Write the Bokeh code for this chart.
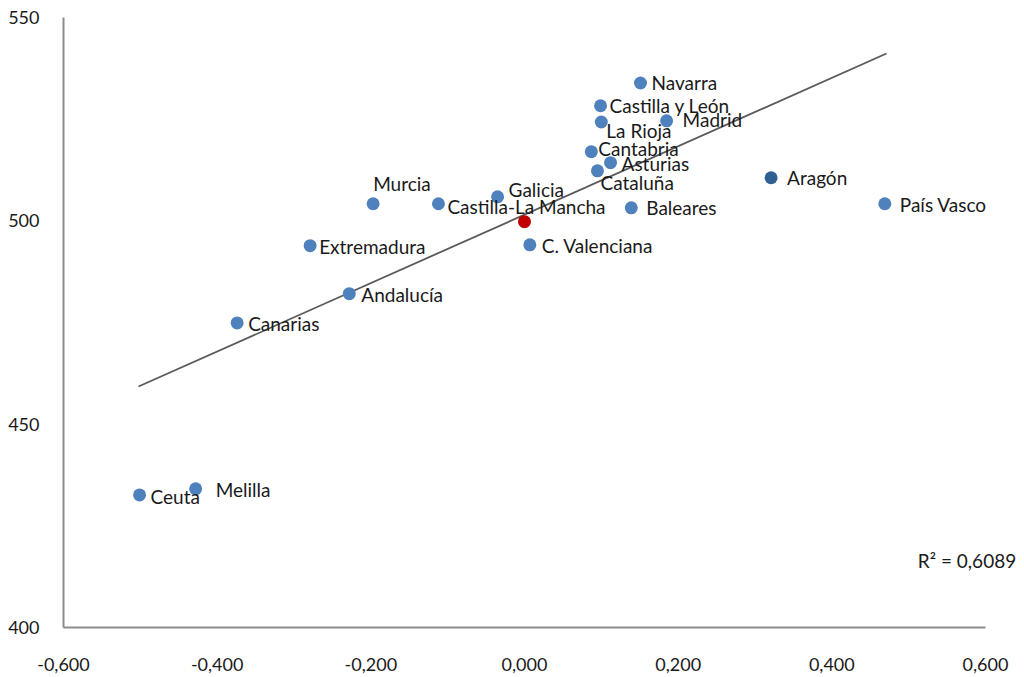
from bokeh.plotting import figure
from bokeh.models import Range1d, ColumnDataSource, Label, FixedTicker
from bokeh.core.properties import value
from bokeh.embed import file_html
from bokeh.resources import INLINE

regions = ["Navarra", "Castilla y León", "La Rioja", "Madrid", "Cantabria", "Asturias",
           "Cataluña", "País Vasco", "Baleares", "Galicia", "Castilla-La Mancha",
           "Murcia", "Extremadura", "C. Valenciana", "Andalucía", "Canarias", "Ceuta", "Melilla"]
x_vals = [0.151, 0.099, 0.100, 0.185, 0.087, 0.112, 0.095, 0.469, 0.139, -0.035, -0.112,
          -0.197, -0.279, 0.007, -0.228, -0.374, -0.501, -0.428]
y_vals = [533.9, 528.3, 524.3, 524.6, 517.0, 514.3, 512.3, 504.2, 503.2, 505.9, 504.2,
          504.2, 493.9, 494.1, 482.1, 474.9, 432.6, 434.1]
# label offsets in screen px (dx, dy downward positive)
label_dx = [11, 9, 5, 16, 7, 11, 3, 15, 15, 11, 9, 0, 9, 12, 12, 11, 11, 20]
label_dy = [0, 0, 8, -1, -3, 1, 12, 1, 0, -7, 3, -20, 1, 1, 1, 1, 2, 1]

aragon_x = [0.321]
aragon_y = [510.6]
aragon_name = ["Aragón"]

spain_x = [0.0]
spain_y = [499.8]

trend_x = [-0.5024, 0.4712]
trend_y = [459.25, 541.14]
r2_text = "R² = 0,6089"
r2_pos = (0.640, 416.4)

x_ticks = [-0.6, -0.4, -0.2, 0.0, 0.2, 0.4, 0.6]
x_tick_labels = ["-0,600", "-0,400", "-0,200", "0,000", "0,200", "0,400", "0,600"]
y_ticks = [400, 450, 500, 550]
y_tick_labels = ["400", "450", "500", "550"]

FONT = "Lato"
LBL = "19px"
W, H = 1020, 675
X_EXTRA = 0.043  # room right of the axis for the R² text
p = figure(width=W, height=H, output_backend="svg", toolbar_location=None,
           x_range=Range1d(-0.6, 0.6 + X_EXTRA), y_range=Range1d(400, 550),
           min_border_left=63, min_border_right=W - 1018, min_border_top=17,
           min_border_bottom=H - 627)
p.outline_line_color = None
p.grid.visible = False
p.background_fill_color = "white"
p.border_fill_color = "white"

for ax, ticks, labels in ((p.xaxis[0], x_ticks, x_tick_labels), (p.yaxis[0], y_ticks, y_tick_labels)):
    ax.ticker = FixedTicker(ticks=ticks)
    ax.major_label_overrides = {t: l for t, l in zip(ticks, labels)}
    ax.axis_line_color = "#8c8c8c"
    ax.axis_line_width = 2
    ax.major_tick_line_color = None
    ax.minor_tick_line_color = None
    ax.major_label_text_font = FONT
    ax.major_label_text_font_size = "18px"
    ax.major_label_text_color = "#1a1a1a"
p.xaxis.bounds = (x_ticks[0], x_ticks[-1])
p.xaxis.major_label_standoff = 24
p.yaxis.major_label_standoff = 18

p.line(trend_x, trend_y, line_color="#5a5a5a", line_width=1.8)

src = ColumnDataSource(dict(x=x_vals, y=y_vals, name=regions, dx=label_dx, dy=label_dy))
p.scatter("x", "y", source=src, size=13, fill_color="#4f81bd", line_color=None)
p.scatter(aragon_x, aragon_y, size=13, fill_color="#2f5f91", line_color=None)
p.scatter(spain_x, spain_y, size=13, fill_color="#c00000", line_color=None)

p.text("x", "y", text="name", source=src, x_offset="dx", y_offset="dy",
       text_font=value(FONT), text_font_size=LBL, text_baseline="middle",
       text_color="#1a1a1a")
p.text(aragon_x, aragon_y, text=aragon_name, x_offset=16, y_offset=0,
       text_font=value(FONT), text_font_size=LBL, text_baseline="middle",
       text_color="#1a1a1a")

p.add_layout(Label(x=r2_pos[0], y=r2_pos[1], text=r2_text, text_font=FONT,
                   text_font_size=LBL, text_align="right", text_baseline="middle",
                   text_color="#1a1a1a"))

open("out.html", "w").write(file_html(p, INLINE))
